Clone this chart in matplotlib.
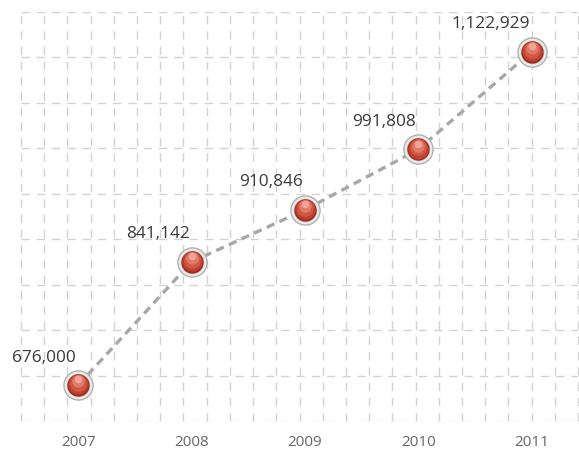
import matplotlib
matplotlib.use("Agg")
import matplotlib.pyplot as plt
import matplotlib.transforms as mtransforms
import numpy as np

years = ["2007", "2008", "2009", "2010", "2011"]
values = [676000, 841142, 910846, 991808, 1122929]
labels = ["676,000", "841,142", "910,846", "991,808", "1,122,929"]

plt.rcParams['lines.scale_dashes'] = False
plt.rcParams['font.family'] = ['Open Sans', 'DejaVu Sans']

fig = plt.figure(figsize=(5.79, 4.5), dpi=100)
ax = fig.add_axes([21/579, 29/450, 557/579, 409/450])

x = np.arange(len(years))
ymin, ymax = 627700, 1176200
ax.set_xlim(-0.506, 4.41)
ax.set_ylim(ymin, ymax)

# grid
for gy in np.linspace(ymin, ymax, 10):
    ax.axhline(gy, color='#d2d2d2', lw=1.0, ls=(0, (6, 5)), zorder=0)
for gx in np.linspace(0, 1, 25):
    ax.plot([gx, gx], [0, 1], transform=ax.transAxes, color='#d2d2d2',
            lw=1.0, ls=(0, (6, 5)), zorder=0, clip_on=False)

for s in ax.spines.values():
    s.set_visible(False)

# line
ax.plot(x, values, color='#a8a8a8', lw=2.4, ls=(0, (6, 4)), zorder=2)

# markers (layered to imitate glossy sphere)
def offs(dy):
    return mtransforms.offset_copy(ax.transData, fig=fig, x=0, y=dy, units='points')

ax.plot(x, values, 'o', ms=22, mfc='#b0b0b0', mec='none', zorder=3)
ax.plot(x, values, 'o', ms=20, mfc='#ececec', mec='none', zorder=3)
ax.plot(x, values, 'o', ms=17, mfc='#c4c4c4', mec='none', zorder=3)
ax.plot(x, values, 'o', ms=16, mfc='#9e2a1c', mec='none', zorder=4)
ax.plot(x, values, 'o', ms=14.5, mfc='#c0412f', mec='none', zorder=4,
        transform=offs(0.5))
ax.plot(x, values, 'o', ms=12, mfc='#d25745', mec='none', zorder=4,
        transform=offs(1.5))
ax.plot(x, values, 'o', ms=9, mfc='#e07a68', mec='none', zorder=4,
        transform=offs(2.8))
ax.plot(x, values, 'o', ms=5.5, mfc='#eea596', mec='none', zorder=4,
        transform=offs(4.0))

# value labels
for xi, v, lab in zip(x, values, labels):
    ax.annotate(lab, (xi, v), xytext=(-1.5, 14), textcoords='offset points',
                ha='right', va='bottom', fontsize=12.4,
                color='#3a3a3a', zorder=5)

ax.set_xticks(x)
ax.set_xticklabels(years, fontsize=11, color='#666666')
ax.tick_params(axis='x', length=0, pad=10)
ax.set_yticks([])

fig.savefig("out.png", dpi=100)
